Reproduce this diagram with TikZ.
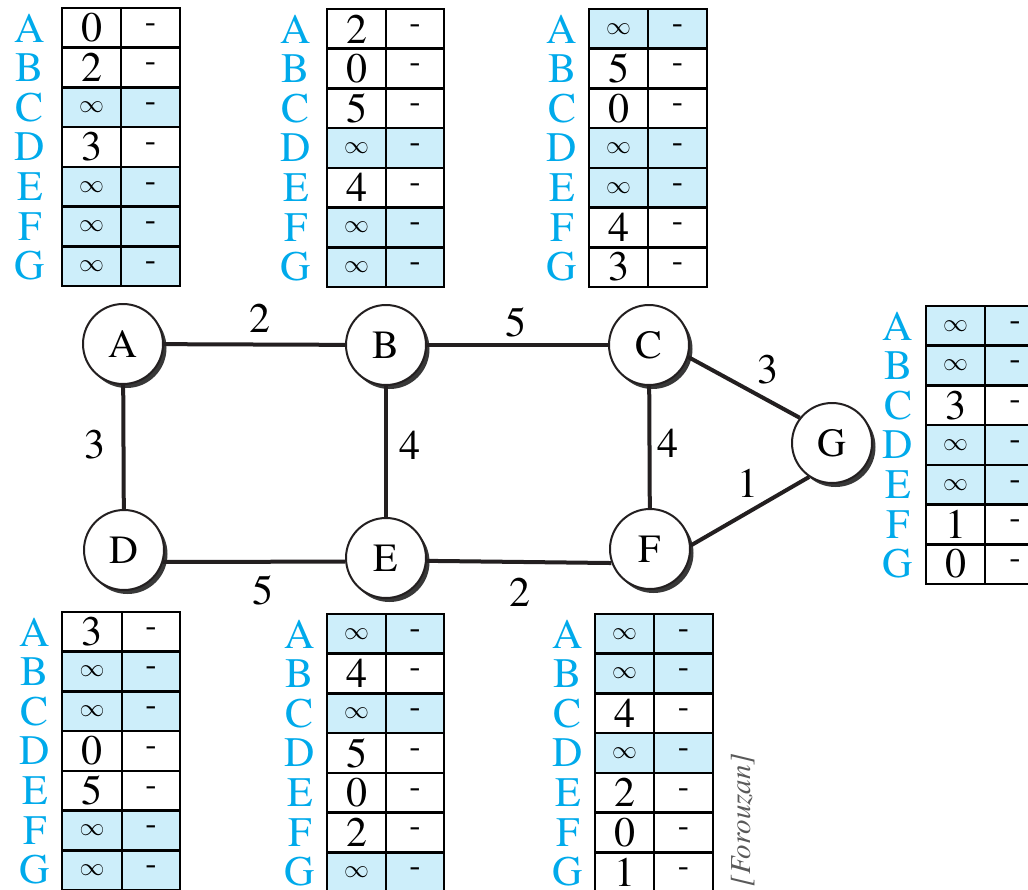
\documentclass[tikz,border=0pt]{standalone}
\usepackage{fontspec}
\setmainfont{texgyretermes}[Extension=.otf, UprightFont=*-regular, ItalicFont=*-italic, BoldFont=*-bold, BoldItalicFont=*-bolditalic]
\usetikzlibrary{shadows}
\definecolor{lblcyan}{RGB}{0,170,235}
\definecolor{cellb}{RGB}{205,238,250}
\definecolor{edgeblack}{RGB}{35,31,32}
\colorlet{w}{white}
\colorlet{b}{cellb}
\newcommand{\inff}{{\fontsize{26}{26}\selectfont$\infty$}}
\tikzset{
  rowlbl/.style={text=lblcyan, font=\fontsize{42}{42}\selectfont, inner sep=0pt},
  cellline/.style={draw=black, line width=2.6pt},
  cellnum/.style={font=\fontsize{42}{42}\selectfont, inner sep=0pt},
  celldash/.style={font=\fontsize{34}{34}\selectfont, inner sep=0pt},
  vertex/.style={circle, draw=edgeblack, line width=2pt, fill=white, minimum size=80pt, inner sep=0pt,
    font=\fontsize{40}{40}\selectfont,
    drop shadow={shadow xshift=3.5pt, shadow yshift=-4pt, fill=black!78, opacity=1}},
  edgeline/.style={draw=edgeblack, line width=4pt},
  wlbl/.style={font=\fontsize{42}{42}\selectfont, inner sep=0pt},
}
% #1 name, #2 label x, #3 left, #4 mid, #5 right, #6 top, #7 list colour/value
\newcommand{\rtable}[7]{%
  \foreach \fc/\vv [count=\ii] in {#7} {
    \pgfmathsetmacro{\yt}{#6+(\ii-1)*39.7}
    \pgfmathsetmacro{\yb}{#6+\ii*39.7}
    \filldraw[cellline, fill=\fc] (#3,\yt) rectangle (#5,\yb);
    \draw[cellline] (#4,\yt) -- (#4,\yb);
  }
  \foreach \fc/\vv [count=\ii] in {#7} {
    \pgfmathsetmacro{\yc}{#6+(\ii-0.5)*39.7}
    \node[cellnum] (#1-d\ii) at ({(#3+#4)/2},\yc) {\vv};
    \node[celldash] (#1-n\ii) at ({(#4+#5)/2},\yc) {-};
  }
  \foreach \LL [count=\ii] in {A,B,C,D,E,F,G} {
    \pgfmathsetmacro{\yc}{#6+(\ii-0.5)*39.7}
    \node[rowlbl] (#1-l\ii) at (#2,\yc) {\LL};
  }
}
\begin{document}
\begin{tikzpicture}[x=1pt,y=-1pt]
\useasboundingbox (0,0) rectangle (1028,889);
\clip (0,0) rectangle (1028,889);
\fill[white] (0,0) rectangle (1028,889);

% routing tables
\rtable{tA}{30}{62}{121}{180}{8}{w/0,w/2,b/\inff,w/3,b/\inff,b/\inff,b/\inff}
\rtable{tB}{296}{327}{386}{444}{9}{w/2,w/0,w/5,b/\inff,w/4,b/\inff,b/\inff}
\rtable{tC}{562}{589}{648}{707}{9}{b/\inff,w/5,w/0,b/\inff,b/\inff,w/4,w/3}
\rtable{tG}{898}{926}{985}{1045}{306}{b/\inff,b/\inff,w/3,b/\inff,b/\inff,w/1,w/0}
\rtable{tD}{35}{62}{122}{180}{612}{w/3,b/\inff,b/\inff,w/0,w/5,b/\inff,b/\inff}
\rtable{tE}{300}{327}{386}{444}{614}{b/\inff,w/4,b/\inff,w/5,w/0,w/2,b/\inff}
\rtable{tF}{568}{595}{654}{713}{614}{b/\inff,b/\inff,w/4,b/\inff,w/2,w/0,w/1}

% graph nodes
\node[vertex] (A) at (123,344) {A};
\node[vertex] (B) at (386,345) {B};
\node[vertex] (C) at (649,345) {C};
\node[vertex] (G) at (832,443) {G};
\node[vertex] (D) at (124,550) {D};
\node[vertex] (E) at (386,558) {E};
\node[vertex] (F) at (650,549) {F};

% edges
\draw[edgeline] (A) -- (B);
\draw[edgeline] (B) -- (C);
\draw[edgeline] (A) -- (D);
\draw[edgeline] (B) -- (E);
\draw[edgeline] (C) -- (F);
\draw[edgeline] (D.-17) -- (E.185);
\draw[edgeline] (E.-4) -- (F.200);
\draw[edgeline] (C.-17) -- (G.142);
\draw[edgeline] (F.5) -- (G.236);

% edge weights
\node[wlbl] (wAB) at (260,318) {2};
\node[wlbl] (wBC) at (516,322) {5};
\node[wlbl] (wAD) at (95,445) {3};
\node[wlbl] (wBE) at (410,445) {4};
\node[wlbl] (wCF) at (668,443) {4};
\node[wlbl] (wCG) at (768,370) {3};
\node[wlbl] (wFG) at (748,483) {1};
\node[wlbl] (wDE) at (263,590) {5};
\node[wlbl] (wEF) at (520,592) {2};

% source
\node[rotate=90, text=black!65, font=\fontsize{29}{29}\selectfont\itshape, inner sep=0pt] (src) at (743,820) {[Forouzan]};
\end{tikzpicture}
\end{document}
